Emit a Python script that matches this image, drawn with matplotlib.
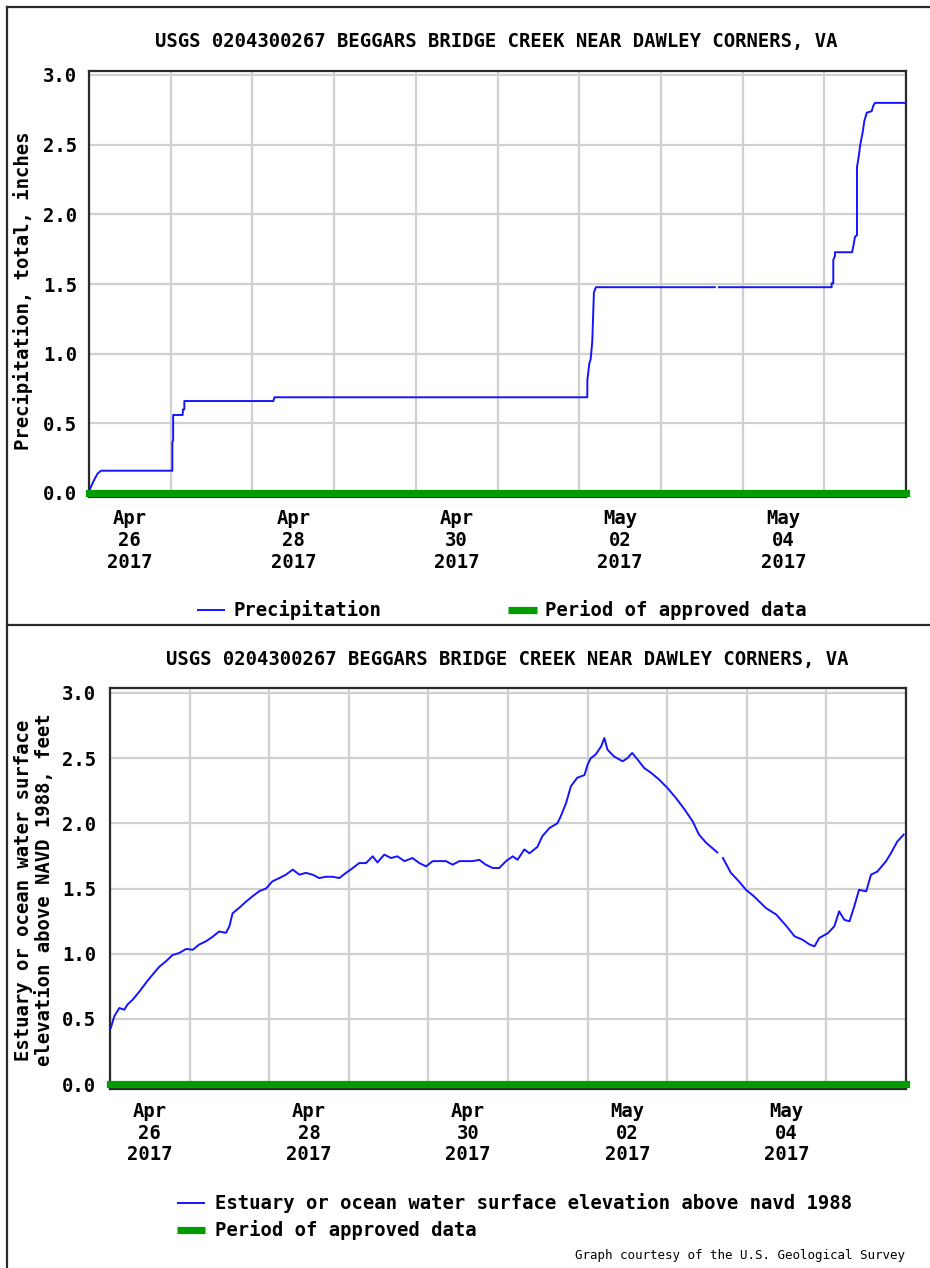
import numpy as np
import pandas as pd
import matplotlib
matplotlib.use("Agg")
import matplotlib.pyplot as plt
import matplotlib.dates as mdates
from matplotlib.lines import Line2D

# ---------------- data ----------------
start = pd.Timestamp("2017-04-26 00:00")
end = pd.Timestamp("2017-05-06 00:00")

title = "USGS 0204300267 BEGGARS BRIDGE CREEK NEAR DAWLEY CORNERS, VA"

# Precipitation, cumulative (days since Apr 26 00:00, inches); nan = gap
precip_days = [0.0, 0.033, 0.073, 0.106, 0.147, 1.02, 1.02, 1.03, 1.03, 1.147, 1.15,
               1.167, 1.167, 2.256, 2.27, 6.099, 6.10, 6.124, 6.14, 6.16, 6.18, 6.205,
               7.66, 7.685, 7.71, 9.09, 9.09, 9.11, 9.11, 9.13, 9.13, 9.34, 9.355,
               9.376, 9.40, 9.40, 9.42, 9.44, 9.47, 9.49, 9.52, 9.58, 9.60, 9.62, 10.0]
precip_vals = [0.01, 0.057, 0.105, 0.14, 0.16, 0.16, 0.36, 0.38, 0.56, 0.56, 0.60,
               0.60, 0.66, 0.66, 0.687, 0.687, 0.81, 0.93, 0.96, 1.086, 1.44, 1.477,
               1.477, np.nan, 1.477, 1.477, 1.505, 1.505, 1.673, 1.70, 1.728, 1.728, 1.77,
               1.84, 1.85, 2.34, 2.41, 2.50, 2.59, 2.67, 2.73, 2.74, 2.78, 2.80, 2.80]

# Estuary water surface elevation (days since Apr 26 00:00, feet)
elev_days = [0.01, 0.054, 0.117, 0.18, 0.22, 0.285, 0.37, 0.45, 0.536, 0.62, 0.70,
             0.787, 0.87, 0.955, 1.04, 1.12, 1.206, 1.29, 1.37, 1.457, 1.5, 1.54,
             1.62, 1.71, 1.79, 1.876, 1.96, 2.04, 2.127, 2.21, 2.295, 2.38, 2.46,
             2.546, 2.63, 2.71, 2.80, 2.88, 2.965, 3.05, 3.13, 3.216, 3.30, 3.36,
             3.446, 3.53, 3.61, 3.70, 3.80, 3.886, 3.97, 4.054, 4.137, 4.22, 4.305,
             4.39, 4.47, 4.556, 4.64, 4.72, 4.81, 4.89, 4.975, 5.06, 5.12, 5.205,
             5.27, 5.37, 5.43, 5.52, 5.62, 5.66, 5.73, 5.79, 5.87, 5.96, 6.00, 6.04,
             6.10, 6.17, 6.21, 6.25, 6.33, 6.44, 6.50, 6.56, 6.63, 6.71, 6.80, 6.90,
             7.005, 7.11, 7.22, 7.32, 7.40, 7.49, 7.63, 7.665, 7.70, 7.80, 7.90, 7.99,
             8.09, 8.24, 8.37, 8.50, 8.60, 8.70, 8.79, 8.85, 8.91, 9.02, 9.10, 9.16,
             9.225, 9.29, 9.35, 9.41, 9.50, 9.56, 9.64, 9.75, 9.81, 9.89, 9.97]
elev_vals = [0.43, 0.52, 0.583, 0.57, 0.61, 0.647, 0.71, 0.775, 0.84, 0.90, 0.94,
             0.99, 1.005, 1.036, 1.03, 1.07, 1.095, 1.13, 1.17, 1.16, 1.21, 1.31,
             1.35, 1.40, 1.44, 1.48, 1.50, 1.555, 1.58, 1.606, 1.645, 1.606, 1.62,
             1.606, 1.58, 1.59, 1.59, 1.58, 1.62, 1.657, 1.695, 1.695, 1.747, 1.70,
             1.76, 1.734, 1.747, 1.71, 1.734, 1.695, 1.67, 1.71, 1.71, 1.71, 1.683,
             1.71, 1.71, 1.71, 1.72, 1.683, 1.657, 1.657, 1.71, 1.747, 1.72, 1.80,
             1.77, 1.82, 1.90, 1.964, 2.00, 2.05, 2.156, 2.284, 2.35, 2.37, 2.45, 2.50,
             2.527, 2.59, 2.655, 2.565, 2.514, 2.476, 2.50, 2.54, 2.488, 2.425, 2.386, 2.335,
             2.27, 2.194, 2.105, 2.015, 1.913, 1.85, 1.777, np.nan, 1.734, 1.62, 1.555, 1.49,
             1.44, 1.35, 1.30, 1.21, 1.133, 1.107, 1.07, 1.056, 1.12, 1.158, 1.21, 1.325,
             1.26, 1.248, 1.363, 1.49, 1.478, 1.606, 1.63, 1.71, 1.77, 1.86, 1.913]

approved_days = [0.0, 10.0]
approved_vals = [0.0, 0.0]

tick_days = [0.5, 2.5, 4.5, 6.5, 8.5]
tick_labels = ["Apr\n26\n2017", "Apr\n28\n2017", "Apr\n30\n2017", "May\n02\n2017", "May\n04\n2017"]
ytick_vals = [0.0, 0.5, 1.0, 1.5, 2.0, 2.5, 3.0]
ytick_labels = ["0.0", "0.5", "1.0", "1.5", "2.0", "2.5", "3.0"]

top_ylabel = "Precipitation, total, inches"
bot_ylabel = "Estuary or ocean water surface\nelevation above NAVD 1988, feet"
top_legend = ["Precipitation", "Period of approved data"]
bot_legend = ["Estuary or ocean water surface elevation above navd 1988", "Period of approved data"]
footer = "Graph courtesy of the U.S. Geological Survey"

# ---------------- style ----------------
W, H = 930, 1268
BLUE = "#1414ff"
GREEN = "#009c00"
GRID = "#d0d0d0"
FRAME = "#2a2a2a"
FONT = "DejaVu Sans Mono"
FS = 13.6

plt.rcParams["font.family"] = FONT
plt.rcParams["font.weight"] = "bold"

def to_dt(days):
    return [start + pd.Timedelta(days=float(d)) for d in days]

def fx(x):
    return x / W

def fy(y):
    return 1 - y / H

fig = plt.figure(figsize=(W / 100, H / 100), dpi=100)
fig.patch.set_facecolor("white")

def make_axes(left, right, top, bottom, y0, y3, xdays, yvals, ypad, xpad):
    ax = fig.add_axes([fx(left), fy(bottom), (right - left) / W, (bottom - top) / H])
    ppu = (y0 - y3) / 3.0
    ax.set_ylim(-(bottom - y0) / ppu, 3.0 + (y3 - top) / ppu)
    ax.set_xlim(start, end)
    # grid
    ax.xaxis.set_major_locator(mdates.DayLocator())
    ax.xaxis.set_major_formatter(plt.NullFormatter())
    ax.set_xticks(to_dt(tick_days), minor=True)
    ax.set_xticklabels(tick_labels, minor=True, fontsize=FS, fontweight="bold",
                       linespacing=1.17)
    ax.set_yticks(ytick_vals)
    ax.set_yticklabels(ytick_labels, fontsize=FS, fontweight="bold")
    ax.tick_params(axis="both", which="both", length=0)
    ax.tick_params(axis="x", which="minor", pad=xpad)
    ax.tick_params(axis="y", pad=ypad)
    ax.grid(True, which="major", color=GRID, linewidth=1.6)
    ax.set_axisbelow(True)
    for s in ax.spines.values():
        s.set_color(FRAME)
        s.set_linewidth(1.6)
    # data
    ax.plot(to_dt(xdays), yvals, color=BLUE, linewidth=1.4, zorder=3)
    ax.plot(to_dt(approved_days), approved_vals, color=GREEN, linewidth=5.2,
            solid_capstyle="projecting", clip_on=False, zorder=4)
    return ax

ax1 = make_axes(89, 906, 71, 497, 493, 75, precip_days, precip_vals, 8.5, 9)
ax2 = make_axes(110, 906, 688, 1089, 1084, 693, elev_days, elev_vals, 10, 9.5)

# titles
fig.text(fx(496), fy(42), title, ha="center", va="center", fontsize=FS, fontweight="bold")
fig.text(fx(507), fy(659), title, ha="center", va="center", fontsize=FS, fontweight="bold")

# y labels
fig.text(fx(23), fy(291), top_ylabel, rotation=90, ha="center", va="center",
         fontsize=FS, fontweight="bold")
fig.text(fx(34), fy(890), bot_ylabel, rotation=90, ha="center", va="center",
         fontsize=FS, fontweight="bold", linespacing=1.1, multialignment="center")

# legends
def leg_line(x0, x1, y, color, lw):
    fig.add_artist(Line2D([fx(x0), fx(x1)], [fy(y), fy(y)], transform=fig.transFigure,
                          color=color, linewidth=lw, solid_capstyle="butt"))

leg_line(197, 225, 610, BLUE, 1.4)
fig.text(fx(233), fy(610), top_legend[0], ha="left", va="center", fontsize=FS, fontweight="bold")
leg_line(508, 537, 610, GREEN, 5.2)
fig.text(fx(545), fy(610), top_legend[1], ha="left", va="center", fontsize=FS, fontweight="bold")

leg_line(177, 205, 1203, BLUE, 1.4)
fig.text(fx(215), fy(1203), bot_legend[0], ha="left", va="center", fontsize=FS, fontweight="bold")
leg_line(177, 205, 1230, GREEN, 5.2)
fig.text(fx(215), fy(1230), bot_legend[1], ha="left", va="center", fontsize=FS, fontweight="bold")

fig.text(fx(905), fy(1256), footer, ha="right", va="center", fontsize=9, fontweight="normal")

# outer frame lines
fig.add_artist(Line2D([fx(7), fx(7)], [fy(7), fy(1268)], transform=fig.transFigure,
                      color=FRAME, linewidth=1.6))
fig.add_artist(Line2D([fx(7), fx(930)], [fy(7), fy(7)], transform=fig.transFigure,
                      color=FRAME, linewidth=1.6))
fig.add_artist(Line2D([fx(7), fx(930)], [fy(625), fy(625)], transform=fig.transFigure,
                      color=FRAME, linewidth=1.6))

fig.savefig("out.png", dpi=100, facecolor="white")
